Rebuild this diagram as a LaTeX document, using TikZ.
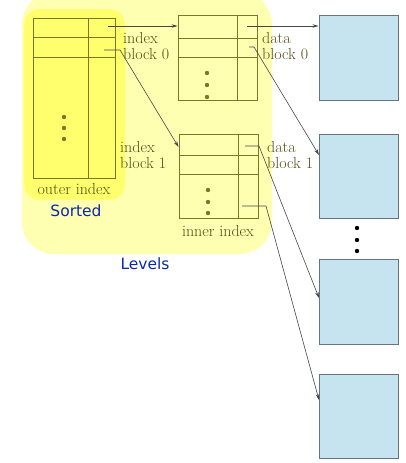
\documentclass[tikz,border=0pt]{standalone}
\usepackage{fontspec}
\newfontfamily\lblsans{DejaVu Sans}
\usetikzlibrary{arrows.meta}
\definecolor{outery}{RGB}{255,255,178}
\definecolor{innery}{RGB}{255,255,110}
\definecolor{tblline}{RGB}{120,120,45}
\definecolor{tbltext}{RGB}{80,80,20}
\definecolor{datafill}{RGB}{198,228,240}
\definecolor{dataline}{RGB}{105,115,125}
\definecolor{arrowc}{RGB}{70,70,70}
\definecolor{bluetxt}{RGB}{10,40,170}
\begin{document}
\begin{tikzpicture}[x=1pt,y=-1pt,
  tbl/.style={draw=tblline, line width=0.8pt, minimum width=79pt, minimum height=85pt, inner sep=0pt},
  datab/.style={draw=dataline, fill=datafill, line width=1pt, minimum width=79pt, minimum height=85pt, inner sep=0pt},
  tline/.style={draw=tblline, line width=0.8pt},
  conn/.style={draw=arrowc, line width=0.6pt, -{Stealth[length=6pt,width=3.5pt]}},
  lbl/.style={text=tbltext, font=\fontsize{16}{16}\selectfont, align=left, inner sep=0pt},
  blue/.style={text=bluetxt, font=\lblsans\fontsize{15.5}{16}\selectfont, inner sep=0pt},
  odot/.style={fill=tblline, draw=none},
  bdot/.style={fill=black, draw=none}]
\useasboundingbox (0,0) rectangle (405,463);
% backgrounds
\fill[outery, rounded corners=32pt] (22,-8) rectangle (272,254);
\fill[innery, rounded corners=16pt] (24,9) rectangle (125,200);
% outer index
\node[tbl, minimum width=82pt, minimum height=160pt] (outer) at (74,98) {};
\draw[tline] (88,18) -- (88,178);
\draw[tline] (33,37) -- (115,37);
\draw[tline] (33,57) -- (115,57);
\foreach \yy in {117,128,139} \fill[odot] (64,\yy) circle (2.2pt);
% index block 0
\node[tbl] (idx0) at (217.5,57.5) {};
\draw[tline] (237,15) -- (237,100);
\draw[tline] (178,38) -- (257,38);
\draw[tline] (178,57) -- (257,57);
\foreach \yy in {73,85,97} \fill[odot] (207,\yy) circle (2.2pt);
% index block 1
\node[tbl, minimum height=84pt] (idx1) at (218.5,176) {};
\draw[tline] (238,134) -- (238,218);
\draw[tline] (179,155) -- (258,155);
\draw[tline] (179,174) -- (258,174);
\foreach \yy in {190,202,213} \fill[odot] (208,\yy) circle (2.2pt);
% data blocks
\node[datab] (d0) at (358.5,58) {};
\node[datab, minimum height=84pt] (d1) at (358.5,176) {};
\node[datab] (d2) at (358.5,301.5) {};
\node[datab, minimum height=84pt] (d3) at (358.5,416) {};
\foreach \yy in {228,240,251} \fill[bdot] (357,\yy) circle (2.2pt);
% labels
\node[lbl] (lo) at (74,189) {outer index};
\node[lbl] (li) at (218,231) {inner index};
\node[lbl, anchor=west] (lb0) at (123,46) {index\\block 0};
\node[lbl, anchor=west] (lb1) at (120,155) {index\\block 1};
\node[lbl, anchor=west] (ld0) at (262,46) {data\\block 0};
\node[lbl, anchor=west] (ld1) at (267,155) {data\\block 1};
\node[blue] (sorted) at (76,211) {Sorted};
\node[blue] (levels) at (145,264) {Levels};
% connector coordinates
\coordinate (o1) at (108,26);
\coordinate (o2) at (104,50);
\coordinate (o2b) at (120,50);
\coordinate (a1) at (247,26);
\coordinate (a2) at (249,47);
\coordinate (a2b) at (254,47);
\coordinate (b1) at (245,146);
\coordinate (b1b) at (259,146);
\coordinate (b2) at (242,206);
\coordinate (b2b) at (266,206);
\coordinate (t2) at (178.5,147);
\coordinate (t4) at (319,155);
\coordinate (t5) at (319,298);
\coordinate (t6) at (319,400);
% connectors
\draw[conn] (o1) -- (o1 -| idx0.west);
\draw[conn] (o2) -- (o2b) -- (t2);
\draw[conn] (a1) -- (a1 -| d0.west);
\draw[conn] (a2) -- (a2b) -- (t4);
\draw[conn] (b1) -- (b1b) -- (t5);
\draw[conn] (b2) -- (b2b) -- (t6);
\end{tikzpicture}
\end{document}
